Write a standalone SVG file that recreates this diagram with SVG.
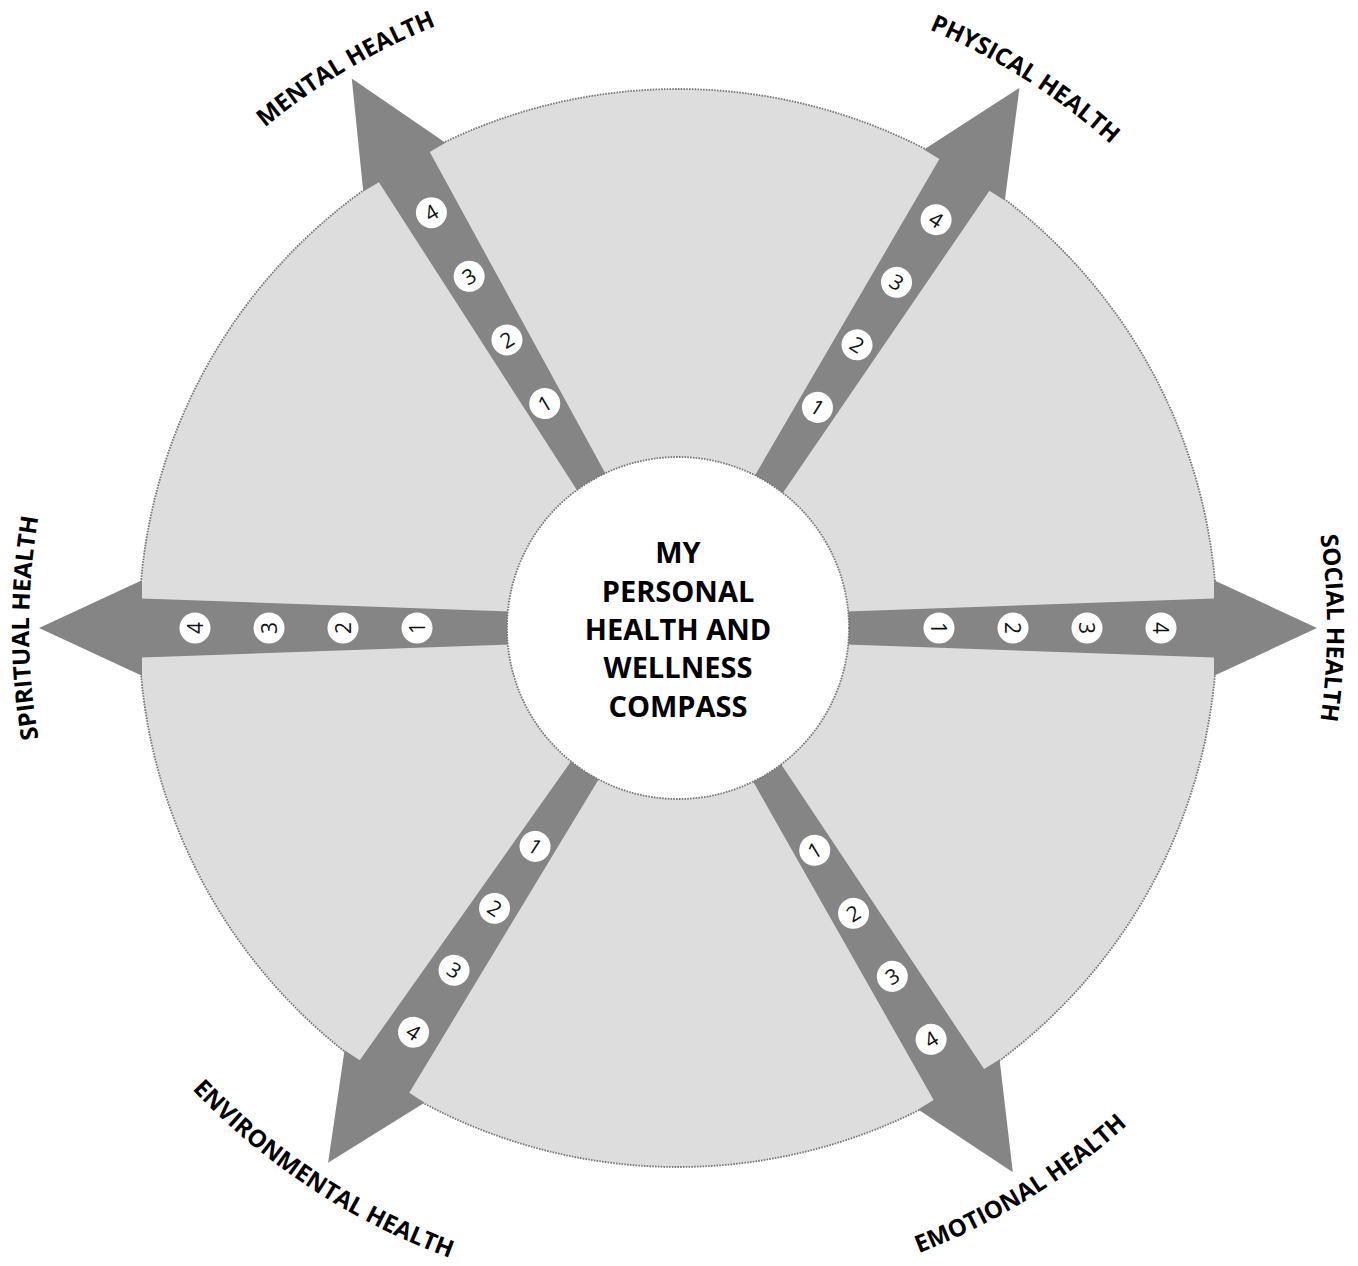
<svg xmlns="http://www.w3.org/2000/svg" xmlns:xlink="http://www.w3.org/1999/xlink" width="1358" height="1266" viewBox="0 0 1358 1266">
  <style>
    .disc { fill: #dddddd; stroke: #777777; stroke-width: 1.8; stroke-dasharray: 1.6 1.2; }
    .hub { fill: #ffffff; stroke: #777777; stroke-width: 1.8; stroke-dasharray: 1.6 1.2; }
    .arrow { fill: #858585; }
    .badge { fill: #ffffff; }
    .num { font-family: "Open Sans", "Liberation Sans", sans-serif; font-size: 21px; font-weight: 400; fill: #111111; text-anchor: middle; }
    .label { font-family: "Open Sans", "Liberation Sans", sans-serif; font-size: 24px; font-weight: 700; fill: #000000; }
    .title { font-family: "Open Sans", "Liberation Sans", sans-serif; font-size: 29px; font-weight: 700; fill: #000000; text-anchor: middle; }
  </style>
  <defs>
    <path id="topArc" d="M115.95,303.5 A649,649 0 0 1 1240.05,303.5" fill="none"/>
    <path id="bottomArc" d="M97.77,963 A670,670 0 0 0 1258.23,963" fill="none"/>
    <polygon id="arrowShape" points="818,612.61 1214,598.4 1214,580.2 1317,628 1214,675.8 1214,657.6 818,643.39"/>
  </defs>

  <g id="disc">
    <circle class="disc" cx="678" cy="628" r="539"/>
  </g>

  <g id="connectors">
    <g id="arrow-social" transform="rotate(0 678 628)">
      <use href="#arrowShape" class="arrow"/>
      <circle class="badge" cx="939" cy="628" r="15.5"/>
      <circle class="badge" cx="1013" cy="628" r="15.5"/>
      <circle class="badge" cx="1087" cy="628" r="15.5"/>
      <circle class="badge" cx="1161" cy="628" r="15.5"/>
      <text class="num" x="939" y="628" dy="0.36em" transform="rotate(90 939 628)">1</text>
      <text class="num" x="1013" y="628" dy="0.36em" transform="rotate(90 1013 628)">2</text>
      <text class="num" x="1087" y="628" dy="0.36em" transform="rotate(90 1087 628)">3</text>
      <text class="num" x="1161" y="628" dy="0.36em" transform="rotate(90 1161 628)">4</text>
    </g>
    <g id="arrow-emotional" transform="rotate(58.4 678 628)">
      <use href="#arrowShape" class="arrow"/>
      <circle class="badge" cx="939" cy="628" r="15.5"/>
      <circle class="badge" cx="1013" cy="628" r="15.5"/>
      <circle class="badge" cx="1087" cy="628" r="15.5"/>
      <circle class="badge" cx="1161" cy="628" r="15.5"/>
      <text class="num" x="939" y="628" dy="0.36em" transform="rotate(-90 939 628)">1</text>
      <text class="num" x="1013" y="628" dy="0.36em" transform="rotate(-90 1013 628)">2</text>
      <text class="num" x="1087" y="628" dy="0.36em" transform="rotate(-90 1087 628)">3</text>
      <text class="num" x="1161" y="628" dy="0.36em" transform="rotate(-90 1161 628)">4</text>
    </g>
    <g id="arrow-environmental" transform="rotate(123.2 678 628)">
      <use href="#arrowShape" class="arrow"/>
      <circle class="badge" cx="939" cy="628" r="15.5"/>
      <circle class="badge" cx="1013" cy="628" r="15.5"/>
      <circle class="badge" cx="1087" cy="628" r="15.5"/>
      <circle class="badge" cx="1161" cy="628" r="15.5"/>
      <text class="num" x="939" y="628" dy="0.36em" transform="rotate(-90 939 628)">1</text>
      <text class="num" x="1013" y="628" dy="0.36em" transform="rotate(-90 1013 628)">2</text>
      <text class="num" x="1087" y="628" dy="0.36em" transform="rotate(-90 1087 628)">3</text>
      <text class="num" x="1161" y="628" dy="0.36em" transform="rotate(-90 1161 628)">4</text>
    </g>
    <g id="arrow-spiritual" transform="rotate(180 678 628)">
      <use href="#arrowShape" class="arrow"/>
      <circle class="badge" cx="939" cy="628" r="15.5"/>
      <circle class="badge" cx="1013" cy="628" r="15.5"/>
      <circle class="badge" cx="1087" cy="628" r="15.5"/>
      <circle class="badge" cx="1161" cy="628" r="15.5"/>
      <text class="num" x="939" y="628" dy="0.36em" transform="rotate(90 939 628)">1</text>
      <text class="num" x="1013" y="628" dy="0.36em" transform="rotate(90 1013 628)">2</text>
      <text class="num" x="1087" y="628" dy="0.36em" transform="rotate(90 1087 628)">3</text>
      <text class="num" x="1161" y="628" dy="0.36em" transform="rotate(90 1161 628)">4</text>
    </g>
    <g id="arrow-mental" transform="rotate(-120.7 678 628)">
      <use href="#arrowShape" class="arrow"/>
      <circle class="badge" cx="939" cy="628" r="15.5"/>
      <circle class="badge" cx="1013" cy="628" r="15.5"/>
      <circle class="badge" cx="1087" cy="628" r="15.5"/>
      <circle class="badge" cx="1161" cy="628" r="15.5"/>
      <text class="num" x="939" y="628" dy="0.36em" transform="rotate(90 939 628)">1</text>
      <text class="num" x="1013" y="628" dy="0.36em" transform="rotate(90 1013 628)">2</text>
      <text class="num" x="1087" y="628" dy="0.36em" transform="rotate(90 1087 628)">3</text>
      <text class="num" x="1161" y="628" dy="0.36em" transform="rotate(90 1161 628)">4</text>
    </g>
    <g id="arrow-physical" transform="rotate(-57.7 678 628)">
      <use href="#arrowShape" class="arrow"/>
      <circle class="badge" cx="939" cy="628" r="15.5"/>
      <circle class="badge" cx="1013" cy="628" r="15.5"/>
      <circle class="badge" cx="1087" cy="628" r="15.5"/>
      <circle class="badge" cx="1161" cy="628" r="15.5"/>
      <text class="num" x="939" y="628" dy="0.36em" transform="rotate(90 939 628)">1</text>
      <text class="num" x="1013" y="628" dy="0.36em" transform="rotate(90 1013 628)">2</text>
      <text class="num" x="1087" y="628" dy="0.36em" transform="rotate(90 1087 628)">3</text>
      <text class="num" x="1161" y="628" dy="0.36em" transform="rotate(90 1161 628)">4</text>
    </g>
  </g>

  <g id="hub">
    <circle class="hub" cx="678" cy="628" r="171"/>
    <text class="title" x="678" y="563">MY</text>
    <text class="title" x="678" y="601.5">PERSONAL</text>
    <text class="title" x="678" y="640">HEALTH AND</text>
    <text class="title" x="678" y="678">WELLNESS</text>
    <text class="title" x="678" y="716.5">COMPASS</text>
  </g>

  <g id="label-mental" transform="rotate(-30.7 678 628)">
    <text class="label"><textPath href="#topArc" startOffset="50%" text-anchor="middle">MENTAL HEALTH</textPath></text>
  </g>
  <g id="label-physical" transform="rotate(32.3 678 628)">
    <text class="label"><textPath href="#topArc" startOffset="50%" text-anchor="middle">PHYSICAL HEALTH</textPath></text>
  </g>
  <g id="label-social" transform="rotate(90 678 628)">
    <text class="label"><textPath href="#topArc" startOffset="50%" text-anchor="middle">SOCIAL HEALTH</textPath></text>
  </g>
  <g id="label-spiritual" transform="rotate(-90 678 628)">
    <text class="label"><textPath href="#topArc" startOffset="50%" text-anchor="middle">SPIRITUAL HEALTH</textPath></text>
  </g>
  <g id="label-emotional" transform="rotate(-31.6 678 628)">
    <text class="label"><textPath href="#bottomArc" startOffset="50%" text-anchor="middle">EMOTIONAL HEALTH</textPath></text>
  </g>
  <g id="label-environmental" transform="rotate(33.2 678 628)">
    <text class="label"><textPath href="#bottomArc" startOffset="50%" text-anchor="middle">ENVIRONMENTAL HEALTH</textPath></text>
  </g>
</svg>
